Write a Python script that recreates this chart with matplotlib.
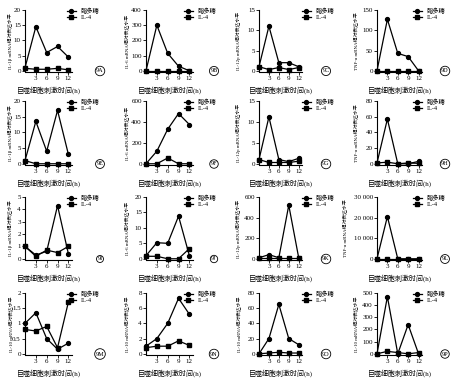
import matplotlib
matplotlib.use("Agg")
import matplotlib.pyplot as plt
from matplotlib.lines import Line2D

plt.rcParams['font.family'] = ['Liberation Serif', 'Noto Sans CJK SC']

W, H = 456, 384

x_hours = [0, 3, 6, 9, 12]
xtick_vals = [3, 6, 9, 12]
xlabel = "巨噬细胞刺激时间(h)"
series_names = ["脂多糖", "IL-4"]

panel_ids = ["9A", "9B", "9C", "9D", "9E", "9F", "9G", "9H",
             "9I", "9J", "9K", "9L", "9M", "9N", "9O", "9P"]

ylabels = [
    "IL-1β mRNA相对表达水平", "IL-6 mRNA相对表达水平", "IL-12p mRNA相对表达水平", "TNF-α mRNA相对表达水平",
    "IL-1β mRNA相对表达水平", "IL-6 mRNA相对表达水平", "IL-12p mRNA相对表达水平", "TNF-α mRNA相对表达水平",
    "IL-1β mRNA相对表达水平", "IL-6 mRNA相对表达水平", "IL-12p mRNA相对表达水平", "TNF-α mRNA相对表达水平",
    "IL-10 mRNA相对表达水平", "IL-10 mRNA相对表达水平", "IL-10 mRNA相对表达水平", "IL-10 mRNA相对表达水平",
]

lps_values = [
    [1, 14.5, 6, 8, 4.5],
    [0, 300, 115, 30, 0],
    [1, 11, 2, 2, 1],
    [0, 127, 43, 35, 0],
    [1, 13.5, 4, 17, 3],
    [0, 120, 330, 480, 375],
    [1, 11.2, 1, 0.5, 1.3],
    [1, 57, 0, 0, 3],
    [1, 0.3, 0.6, 4.3, 0.4],
    [1, 5.2, 5, 13.8, 1],
    [10, 40, 10, 520, 10],
    [0, 20500, 0, 0, 0],
    [1.0, 1.35, 0.5, 0.15, 0.35],
    [1, 2, 4, 7.3, 5.2],
    [0, 20, 65, 20, 12],
    [0, 470, 0, 240, 0],
]

il4_values = [
    [0.8, 0.5, 0.5, 0.8, 0.3],
    [0, 0, 0, 0, 0],
    [1, 0.3, 0.8, 0.3, 0.8],
    [0, 0, 0, 0, 0],
    [1, 0, 0, 0, 0],
    [0, 0, 55, 0, 0],
    [1, 0.3, 0.3, 0.3, 0.6],
    [1, 2, 0, 1, 0.5],
    [1, 0.2, 0.7, 0.5, 1.0],
    [0.8, 0.8, 0, 0, 3.3],
    [10, 10, 10, 10, 10],
    [0, 0, 0, 0, 0],
    [0.8, 0.75, 0.9, 0.2, 1.7],
    [0.8, 1, 1, 1.7, 1.1],
    [0, 1, 2, 1, 1],
    [0, 20, 10, 0, 10],
]

yticks = [
    [0, 5, 10, 15, 20], [0, 100, 200, 300, 400], [0, 5, 10, 15], [0, 50, 100, 150],
    [0, 5, 10, 15, 20], [0, 200, 400, 600], [0, 5, 10, 15], [0, 20, 40, 60, 80],
    [0, 1, 2, 3, 4, 5], [0, 5, 10, 15, 20], [0, 200, 400, 600], [0, 10000, 20000, 30000],
    [0, 0.5, 1, 1.5, 2], [0, 2, 4, 6, 8], [0, 20, 40, 60, 80], [0, 100, 200, 300, 400, 500],
]

ytick_labels = [
    ["0", "5", "10", "15", "20"], ["0", "100", "200", "300", "400"], ["0", "5", "10", "15"], ["0", "50", "100", "150"],
    ["0", "5", "10", "15", "20"], ["0", "200", "400", "600"], ["0", "5", "10", "15"], ["0", "20", "40", "60", "80"],
    ["0", "1", "2", "3", "4", "5"], ["0", "5", "10", "15", "20"], ["0", "200", "400", "600"], ["0", "10 000", "20 000", "30 000"],
    ["0", "0.5", "1", "1.5", "2"], ["0", "2", "4", "6", "8"], ["0", "20", "40", "60", "80"], ["0", "100", "200", "300", "400", "500"],
]

fig = plt.figure(figsize=(W / 100, H / 100), dpi=100)

col_left = [25, 146, 259, 377]
col_width = [47, 47, 43, 45]
ylabel_x = [13, 129, 241, 358]
legend_x = [67, 184, 302, 413]
circle_x = [100, 214, 326, 445]
row_top = [10, 101, 197, 293]
row_bottom = [72, 165, 260, 355]
fs = 5

for i in range(16):
    r, c = divmod(i, 4)
    l = col_left[c]
    w = col_width[c]
    t = row_top[r]
    b = row_bottom[r]
    ax = fig.add_axes([l / W, 1 - b / H, w / W, (b - t) / H])
    top = yticks[i][-1]
    ax.plot(x_hours, lps_values[i], color='black', lw=0.9, marker='o', ms=2.8,
            clip_on=False, zorder=3)
    ax.plot(x_hours, il4_values[i], color='black', lw=0.9, marker='s', ms=2.8,
            clip_on=False, zorder=3)
    ax.set_xlim(0, 13)
    ax.set_ylim(-0.02 * top, top)
    ax.spines['top'].set_visible(False)
    ax.spines['right'].set_visible(False)
    ax.spines['left'].set_bounds(0, top)
    for s in ('left', 'bottom'):
        ax.spines[s].set_linewidth(0.8)
    ax.set_xticks(xtick_vals)
    ax.set_xticklabels([str(v) for v in xtick_vals])
    ax.set_yticks(yticks[i])
    ax.set_yticklabels(ytick_labels[i])
    ax.tick_params(labelsize=fs, length=2, width=0.6, pad=1)
    ax.set_xlabel(xlabel, fontsize=fs, labelpad=4)
    ax.set_ylabel(ylabels[i], fontsize=3.5)
    yx = ylabel_x[c]
    if len(ytick_labels[i][-1]) > 4:
        yx = 347
    ax.yaxis.set_label_coords((yx - l) / w, 0.5)
    handles = [Line2D([], [], color='black', lw=0.9, marker='o', ms=2.8),
               Line2D([], [], color='black', lw=0.9, marker='s', ms=2.8)]
    fig.legend(handles, series_names, loc='upper left',
               bbox_to_anchor=(legend_x[c] / W, 1 - (t - 2) / H),
               frameon=False, fontsize=4.5, handlelength=1.4, handletextpad=0.8,
               labelspacing=0.1, borderaxespad=0, borderpad=0)
    fig.text(circle_x[c] / W, 1 - (b - 1) / H, panel_ids[i], fontsize=4.5,
             ha='center', va='center',
             bbox=dict(boxstyle='circle,pad=0.15', fc='white', ec='black', lw=0.6))

fig.savefig("out.png", dpi=100)
